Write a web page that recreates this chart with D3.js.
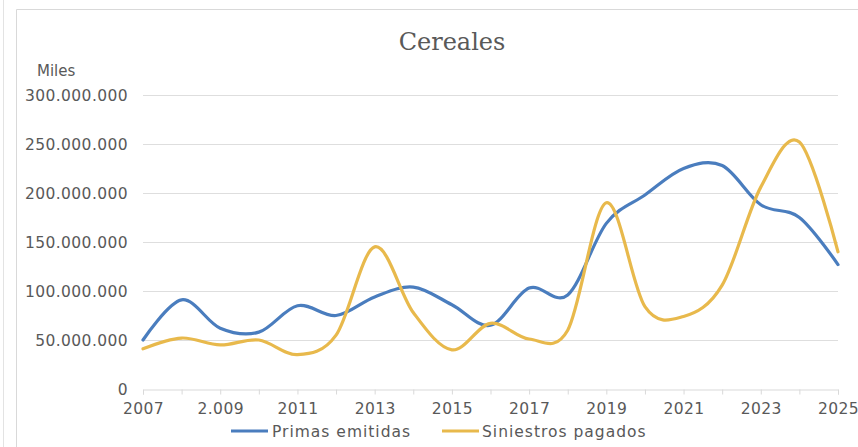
<!DOCTYPE html>
<html><head><meta charset="utf-8">
<script src="https://cdn.jsdelivr.net/npm/d3@7"></script>
<style>body{margin:0;background:#fff;}svg{display:block;}</style>
</head><body>
<svg id="c" width="858" height="447"></svg>
<script>
const years = d3.range(2007, 2026);
const xTickLabels = ["2007","2.009","2011","2013","2015","2017","2019","2021","2023","2025"];
const yTicks = [0,50e6,100e6,150e6,200e6,250e6,300e6];
const primas = [50e6,91e6,62e6,58e6,85e6,75e6,94e6,104e6,86e6,65e6,103e6,96e6,169e6,198e6,225e6,228e6,188e6,175e6,127e6];
const siniestros = [41e6,52e6,45e6,50e6,35e6,55e6,145e6,78e6,40e6,67e6,51e6,60e6,190e6,84e6,74e6,106e6,206e6,252e6,140e6];
const seriesNames = ["Primas emitidas","Siniestros pagados"];
const colors = ["#4A7DBE","#E8B94C"];

const svg = d3.select("#c");
const font = "'DejaVu Sans', sans-serif";
const grey = "#595959";

// frame
svg.append("line").attr("x1",3.5).attr("x2",3.5).attr("y1",0).attr("y2",447).attr("stroke","#e3e3e3");
svg.append("path").attr("d","M16.5,447V9.5H858").attr("fill","none").attr("stroke","#d9d9d9");

const x = d3.scaleLinear().domain([2007,2025]).range([143,838]);
const y = d3.scaleLinear().domain([0,300e6]).range([389,95]);

const fmt = v => v===0 ? "0" : d3.format(",")(v).replace(/,/g,".");

// grid
svg.append("g").selectAll("line").data(yTicks.filter(d=>d>0)).join("line")
  .attr("x1",x(2007)).attr("x2",x(2025)).attr("y1",d=>Math.round(y(d))+0.5).attr("y2",d=>Math.round(y(d))+0.5)
  .attr("stroke","#dedede").attr("stroke-width",1);

// y labels
svg.append("g").selectAll("text").data(yTicks).join("text")
  .attr("x",128).attr("y",d=>y(d)).attr("dy","0.36em").attr("text-anchor","end")
  .attr("font-family",font).attr("font-size",15.5).attr("letter-spacing",0.4).attr("fill",grey)
  .text(fmt);

svg.append("text").attr("x",37).attr("y",76).attr("font-family",font).attr("font-size",15)
  .attr("fill",grey).text("Miles");

// x axis
const xAxis = d3.axisBottom(x).tickValues(years).tickSize(5).tickFormat(d => {
  const i = (d-2007)/2; return Number.isInteger(i) ? xTickLabels[i] : "";
});
const gx = svg.append("g").attr("transform","translate(0,389.5)").call(xAxis);
gx.select(".domain").attr("stroke","#d9d9d9");
gx.selectAll(".tick line").attr("stroke","#d9d9d9");
gx.selectAll("text").attr("font-family",font).attr("font-size",15.5).attr("letter-spacing",0.4)
  .attr("fill",grey).attr("dy","1.05em");

// lines
const line = d3.line().x((d,i)=>x(years[i])).y(d=>y(d)).curve(d3.curveCardinal.tension(0));
[primas, siniestros].forEach((s,k)=>{
  svg.append("path").attr("d",line(s)).attr("fill","none").attr("stroke",colors[k])
    .attr("stroke-width",3.2).attr("stroke-linecap","round");
});

// title
svg.append("text").attr("x",452).attr("y",50).attr("text-anchor","middle")
  .attr("font-family","'DejaVu Serif', serif").attr("font-size",24).attr("fill",grey).text("Cereales");

// legend
const lg = [{x:231,t:272},{x:442,t:482}];
lg.forEach((p,k)=>{
  svg.append("line").attr("x1",p.x).attr("x2",p.x+37).attr("y1",431).attr("y2",431)
    .attr("stroke",colors[k]).attr("stroke-width",3.2);
  svg.append("text").attr("x",p.t).attr("y",431).attr("dy","0.36em").attr("font-family",font)
    .attr("font-size",15.5).attr("letter-spacing",1.0).attr("fill",grey).text(seriesNames[k]);
});
</script>
</body></html>
